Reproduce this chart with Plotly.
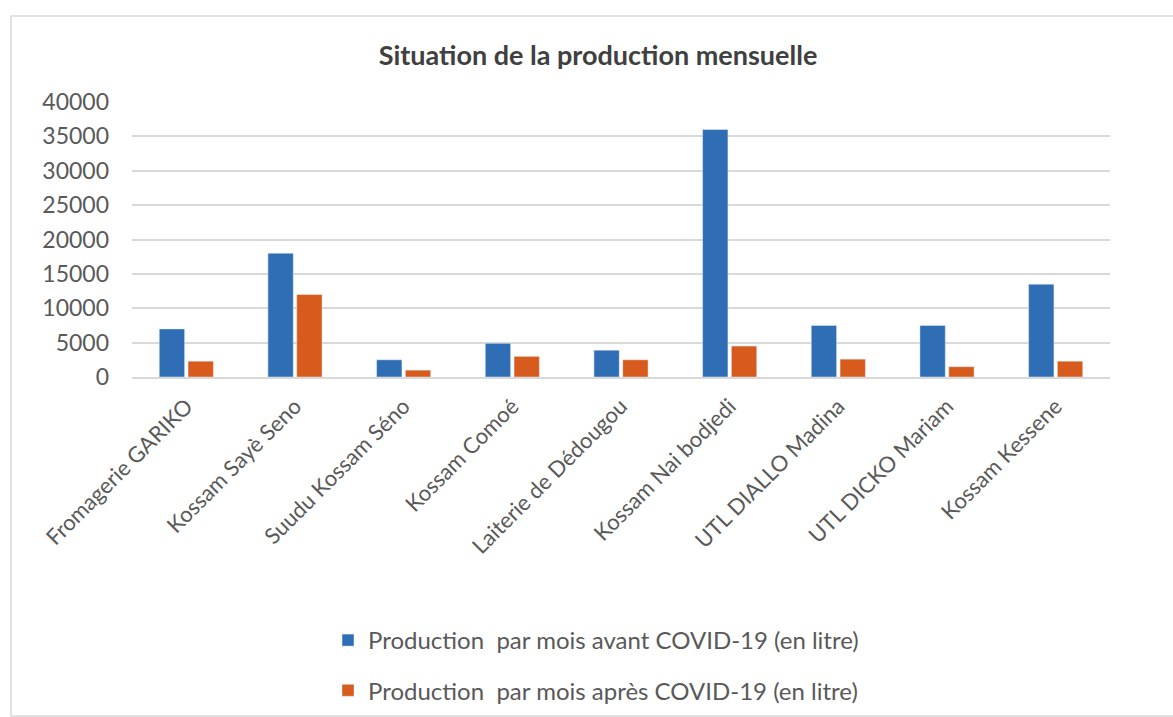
import plotly.graph_objects as go

categories = [
    "Fromagerie GARIKO",
    "Kossam Sayè Seno",
    "Suudu Kossam Séno",
    "Kossam Comoé",
    "Laiterie de Dédougou",
    "Kossam Nai bodjedi",
    "UTL DIALLO Madina",
    "UTL DICKO Mariam",
    "Kossam Kessene",
]
avant = [7000, 18000, 2500, 4900, 3900, 36000, 7500, 7500, 13500]
apres = [2300, 12000, 1000, 3000, 2500, 4500, 2600, 1500, 2300]
series_names = [
    "Production  par mois avant COVID-19 (en litre)",
    "Production  par mois après COVID-19 (en litre)",
]
y_ticks = [0, 5000, 10000, 15000, 20000, 25000, 30000, 35000, 40000]

BLUE = "#2F6DB5"
ORANGE = "#D75B1C"
FONT = "Lato"
GREY = "#595959"

W, H = 1173, 717
L, R, T, B = 132, 63, 102, 340
pw = W - L - R
ph = H - T - B

fig = go.Figure()
fig.add_trace(go.Bar(x=categories, y=avant, name=series_names[0],
                     marker_color=BLUE, legendgroup="a"))
fig.add_trace(go.Bar(x=categories, y=apres, name=series_names[1],
                     marker_color=ORANGE, legendgroup="b"))

def px_x(p):
    return (p - L) / pw

def px_y(p):
    return (T + ph - p) / ph

fig.add_shape(type="rect", xref="paper", yref="paper",
              x0=px_x(11), x1=px_x(1190), y0=px_y(716), y1=px_y(16),
              line=dict(color="#d9d9d9", width=1.5), layer="below")

fig.update_layout(
    width=W, height=H,
    margin=dict(l=L, r=R, t=T, b=B, autoexpand=False),
    paper_bgcolor="white", plot_bgcolor="white",
    font=dict(family=FONT, size=22, color=GREY),
    title=dict(text="<b>Situation de la production mensuelle</b>",
               x=598 / W, xanchor="center", y=1 - 56 / H, yanchor="middle",
               yref="container", xref="container",
               font=dict(family=FONT, size=27, color="#404040")),
    barmode="group", bargap=0.47, bargroupgap=0.12,
    showlegend=True,
    legend=dict(orientation="v", x=px_x(328), xanchor="left",
                y=px_y(618), yanchor="top", traceorder="grouped",
                tracegroupgap=16, bgcolor="rgba(0,0,0,0)",
                font=dict(family=FONT, size=24, color=GREY),
                itemwidth=30),
)
fig.update_yaxes(range=[0, 40000], tickvals=y_ticks,
                 ticktext=[str(v) for v in y_ticks],
                 showgrid=True, gridcolor="#d9d9d9", gridwidth=1.5,
                 zeroline=False, showline=False, ticks="",
                 ticklabelstandoff=22, automargin=False,
                 tickfont=dict(family=FONT, size=23, color=GREY))
fig.update_xaxes(tickangle=-45, showline=True, linecolor="#d9d9d9",
                 linewidth=1.5, ticks="", showgrid=False,
                 ticklabelstandoff=6, automargin=False,
                 tickfont=dict(family=FONT, size=22, color=GREY))

fig.write_html("out.html")
